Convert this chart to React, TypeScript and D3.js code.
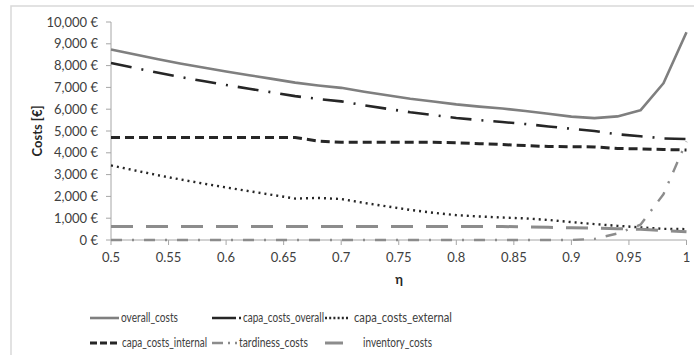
import React from "react";
import * as d3 from "d3";

const eta = [0.5,0.52,0.54,0.56,0.58,0.6,0.62,0.64,0.66,0.68,0.7,0.72,0.74,0.76,0.78,0.8,0.82,0.84,0.86,0.88,0.9,0.92,0.94,0.96,0.98,1.0];
const overallCosts = [8740,8520,8300,8100,7910,7730,7560,7390,7220,7090,6980,6800,6640,6480,6350,6220,6120,6030,5920,5790,5660,5590,5670,5950,7190,9530];
const capaCostsOverall = [8120,7900,7680,7480,7290,7110,6940,6770,6600,6470,6360,6180,6020,5860,5730,5600,5500,5410,5320,5210,5100,5000,4850,4760,4660,4630];
const capaCostsExternal = [3420,3200,2980,2780,2590,2410,2240,2070,1900,1930,1880,1700,1540,1380,1250,1140,1080,1030,990,920,820,730,650,580,510,500];
const capaCostsInternal = [4700,4700,4700,4700,4700,4700,4700,4700,4700,4540,4480,4480,4480,4480,4480,4460,4420,4380,4330,4290,4280,4270,4200,4180,4150,4130];
const tardinessCosts = [0,0,0,0,0,0,0,0,0,0,0,0,0,0,0,0,0,0,0,0,0,50,300,700,2100,4520];
const inventoryCosts = [620,620,620,620,620,620,620,620,620,620,620,620,620,620,620,620,620,620,600,580,560,540,520,490,430,380];

const xTicks = [0.5,0.55,0.6,0.65,0.7,0.75,0.8,0.85,0.9,0.95,1];
const yTicks = [0,1000,2000,3000,4000,5000,6000,7000,8000,9000,10000];

const seriesNames = ["overall_costs","capa_costs_overall","capa_costs_external","capa_costs_internal","tardiness_costs","inventory_costs"];
const seriesData = [overallCosts, capaCostsOverall, capaCostsExternal, capaCostsInternal, tardinessCosts, inventoryCosts];

const styles = [
  { color: "#7f7f7f", width: 2.6, dash: "", legendDash: "" },
  { color: "#262626", width: 2.6, dash: "21 10 2 10", legendDash: "24 3 2 30" },
  { color: "#262626", width: 2.4, dash: "2 4", legendDash: "2 2.2" },
  { color: "#262626", width: 3, dash: "9 5", legendDash: "7 3" },
  { color: "#8c8c8c", width: 2.4, dash: "11 10 2 10", legendDash: "11 5 2 5 2 30" },
  { color: "#8c8c8c", width: 3, dash: "22 13", legendDash: "" },
];

const legendPos = [
  { x1: 90, x2: 119, tx: 121, w: 57, y: 318 },
  { x1: 212, x2: 241, tx: 243, w: 81, y: 318 },
  { x1: 325, x2: 349, tx: 354, w: 98, y: 318 },
  { x1: 90, x2: 117, tx: 122, w: 85, y: 343 },
  { x1: 212, x2: 238, tx: 239, w: 69, y: 343 },
  { x1: 325, x2: 343, tx: 363, w: 69, y: 343 },
];

export default function App() {
  const x = d3.scaleLinear().domain([0.5, 1]).range([111, 686.5]);
  const y = d3.scaleLinear().domain([0, 10000]).range([240, 22]);
  const fmt = (v: number) => d3.format(",")(v) + " €";
  const font = "Lato, 'Open Sans', sans-serif";
  const line = (vals: number[]) =>
    d3.line<number>().x((_, i) => x(eta[i])).y((v) => y(v))(vals) || "";

  return (
    <svg width={694} height={355} style={{ position: "absolute", left: 0, top: 0, background: "#fff" }} fontFamily={font}>
      <rect x={11} y={6} width={700} height={400} fill="#fff" stroke="#d9d9d9" strokeWidth={1.5} />
      {/* axes */}
      <line x1={111} x2={111} y1={y(10000)} y2={y(0)} stroke="#a6a6a6" strokeWidth={1} />
      {yTicks.map((t) => (
        <g key={t}>
          <line x1={106} x2={111} y1={y(t)} y2={y(t)} stroke="#a6a6a6" />
          <text x={98} y={y(t)} dy="0.35em" textAnchor="end" fontSize={13} fill="#404040">{fmt(t)}</text>
        </g>
      ))}
      <line x1={x(0.5)} x2={x(1)} y1={y(0)} y2={y(0)} stroke="#a6a6a6" strokeWidth={1} />
      {xTicks.map((t) => (
        <g key={t}>
          <line x1={x(t)} x2={x(t)} y1={y(0)} y2={y(0) + 5} stroke="#a6a6a6" />
          <text x={x(t)} y={262} textAnchor="middle" fontSize={13} fill="#404040">{String(t)}</text>
        </g>
      ))}
      <text transform="translate(42,131) rotate(-90)" textAnchor="middle" fontSize={13} fontWeight="bold" fill="#262626">Costs [€]</text>
      <text x={399} y={284} textAnchor="middle" fontSize={13} fontWeight="bold" fill="#262626">η</text>
      {/* series */}
      {seriesData.map((vals, i) => (
        <path key={seriesNames[i]} d={line(vals)} fill="none" stroke={styles[i].color} strokeWidth={styles[i].width}
          strokeDasharray={styles[i].dash || undefined} strokeLinejoin="round" />
      ))}
      {/* legend */}
      {seriesNames.map((n, i) => (
        <g key={n}>
          <line x1={legendPos[i].x1} x2={legendPos[i].x2} y1={legendPos[i].y} y2={legendPos[i].y}
            stroke={styles[i].color} strokeWidth={styles[i].width} strokeDasharray={styles[i].legendDash || undefined} />
          <text x={legendPos[i].tx} y={legendPos[i].y} dy="0.35em" fontSize={12.5} fill="#404040"
            textLength={legendPos[i].w} lengthAdjust="spacingAndGlyphs">{n}</text>
        </g>
      ))}
    </svg>
  );
}
